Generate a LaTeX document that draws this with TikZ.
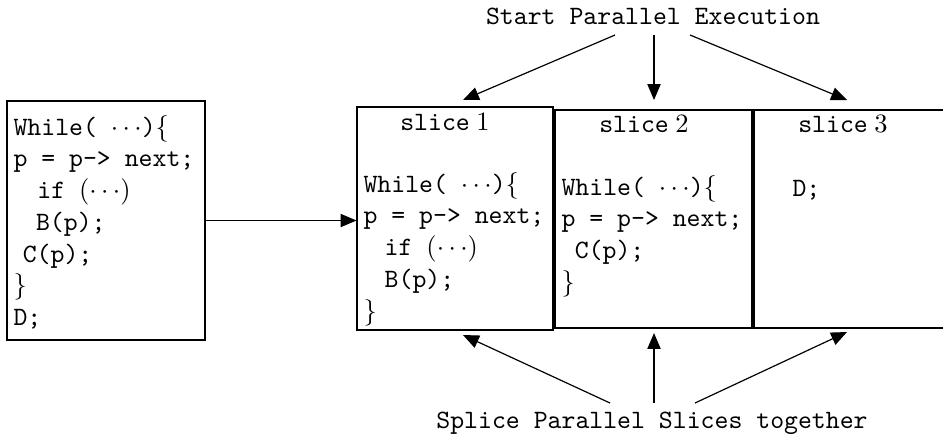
\documentclass[tikz,border=0pt]{standalone}
\usetikzlibrary{arrows.meta,fit}
\begin{document}
\begin{tikzpicture}[x=0.3774pt,y=-0.3774pt,font=\ttfamily,
  box/.style={draw,line width=0.4pt,inner sep=0pt},
  arr/.style={-{Triangle[length=6pt,width=5pt]},line width=0.45pt},
  code/.style={anchor=base west,inner sep=0pt},
  title/.style={anchor=base,inner sep=0pt}]
\useasboundingbox (0,0) rectangle (943,439);

% sequential loop
\node[box,fit={(7,101)(205,340)}] (code) {};
\node[code] (codetxt) at (13,135) {\begin{tabular}[t]{@{}l@{}}
While( $\cdots$)$\{$\\
p = p-> next;\\
\hspace*{9pt}if $(\cdots)$\\
\hspace*{8.5pt}B(p);\\
\hspace*{3.5pt}C(p);\\
$\}$\\
D;
\end{tabular}};

% the three slices
\node[box,fit={(357,107)(553,330)}] (s1) {};
\node[box,fit={(555,110)(752,328)}] (s2) {};
\node[box,fit={(754,110)(960,328)}] (s3) {};

\node[title] (l1) at (445,130) {slice\hspace{2.5pt}$1$};
\node[code] (c1) at (363,192) {\begin{tabular}[t]{@{}l@{}}
While( $\cdots$)$\{$\\
p = p-> next;\\
\hspace*{8pt}if $(\cdots)$\\
\hspace*{8pt}B(p);\\
$\}$
\end{tabular}};

\node[title] (l2) at (644,132) {slice\hspace{2.5pt}$2$};
\node[code] (c2) at (561,195) {\begin{tabular}[t]{@{}l@{}}
While( $\cdots$)$\{$\\
p = p-> next;\\
\hspace*{5pt}C(p);\\
$\}$
\end{tabular}};

\node[title] (l3) at (843,132) {slice\hspace{2.5pt}$3$};
\node[code] (c3) at (792,196) {D;};

% labels
\node[title] (start) at (653,24) {Start Parallel Execution};
\node[title] (splice) at (652,428) {Splice Parallel Slices together};

% arrow ends
\coordinate (t1) at (615,35);
\coordinate (t2) at (654,35);
\coordinate (t3) at (690,35);
\coordinate (e1) at (463,100);
\coordinate (e2) at (654,100);
\coordinate (e3) at (847,100);
\coordinate (b1) at (610,403);
\coordinate (b2) at (654,403);
\coordinate (b3) at (695,403);
\coordinate (f1) at (463,335);
\coordinate (f2) at (654,333);
\coordinate (f3) at (847,332);

\draw[arr] (code.east) -- (code.east -| s1.west);
\draw[arr] (t1) -- (e1);
\draw[arr] (t2) -- (e2);
\draw[arr] (t3) -- (e3);
\draw[arr] (b1) -- (f1);
\draw[arr] (b2) -- (f2);
\draw[arr] (b3) -- (f3);
\end{tikzpicture}
\end{document}
